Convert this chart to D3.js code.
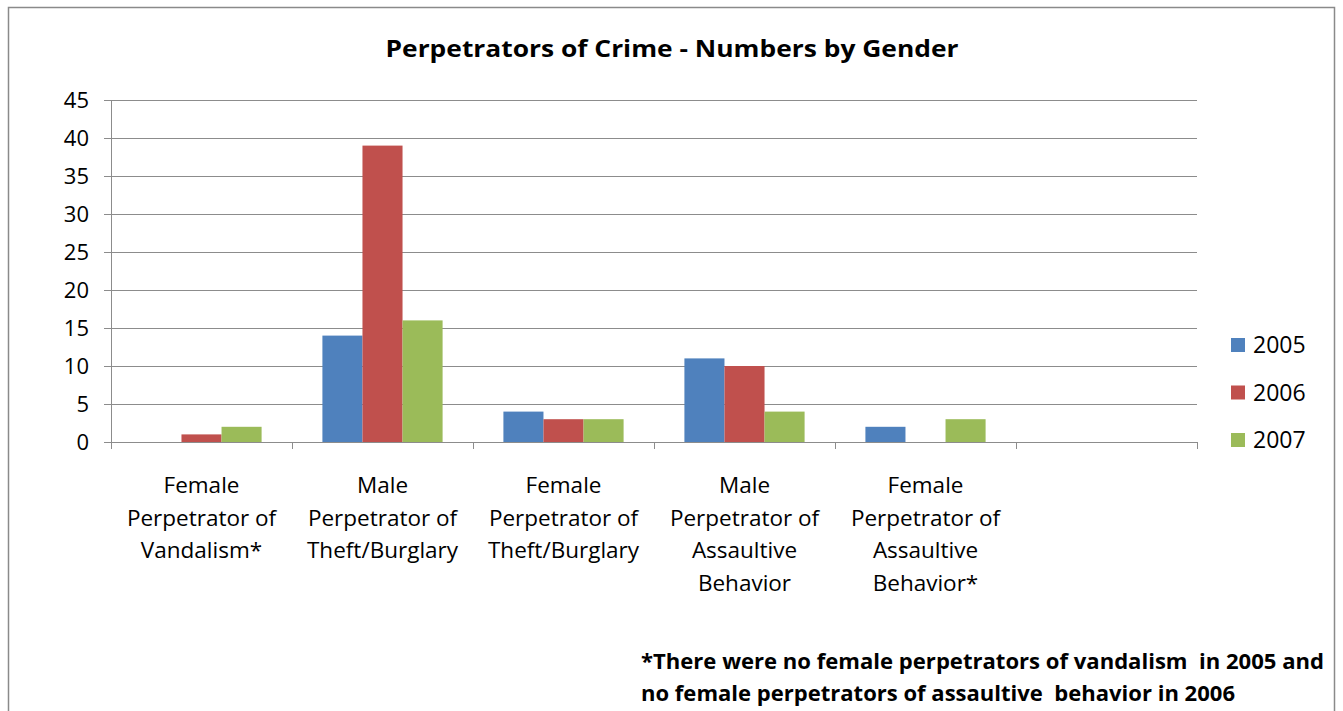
<!DOCTYPE html>
<html>
<head>
<meta charset="utf-8">
<script src="https://cdn.jsdelivr.net/npm/d3@7"></script>
<style>
  body { margin: 0; background: #fff; }
  svg text { font-family: "Open Sans", sans-serif; fill: #000; }
</style>
</head>
<body>
<div id="chart"></div>
<script>
// Data
var categories = [
  ["Female", "Perpetrator of", "Vandalism*"],
  ["Male", "Perpetrator of", "Theft/Burglary"],
  ["Female", "Perpetrator of", "Theft/Burglary"],
  ["Male", "Perpetrator of", "Assaultive", "Behavior"],
  ["Female", "Perpetrator of", "Assaultive", "Behavior*"],
  [""]
]
var years = ["2005", "2006", "2007"]
var v2005 = [0, 14, 4, 11, 2, null]
var v2006 = [1, 39, 3, 10, 0, null]
var v2007 = [2, 16, 3, 4, 3, null]
var yTicks = [0, 5, 10, 15, 20, 25, 30, 35, 40, 45]
var colors = ["#4F81BD", "#C0504D", "#9BBB59"]
var footnote = [
  "*There were no female perpetrators of vandalism  in 2005 and",
  "no female perpetrators of assaultive  behavior in 2006"
]

var series = [v2005, v2006, v2007]
var width = 1343, height = 711
var margin = {left: 111, right: 146, top: 100, bottom: 269}

var svg = d3.select("#chart").append("svg")
  .attr("width", width)
  .attr("height", height)

// outer frame
svg.append("rect")
  .attr("x", 8.5).attr("y", 7.5)
  .attr("width", 1326).attr("height", 720)
  .attr("fill", "none")
  .attr("stroke", "#8a8a8a")
  .attr("stroke-width", 1.5)

var x0 = d3.scaleBand()
  .domain(d3.range(categories.length))
  .range([margin.left, width - margin.right])
  .paddingInner(0.336)
  .paddingOuter(0.168)

var x1 = d3.scaleBand()
  .domain(d3.range(years.length))
  .range([0, x0.bandwidth()])

var y = d3.scaleLinear()
  .domain([0, 45])
  .range([height - margin.bottom, margin.top])

var g = svg.append("g")

// gridlines
g.selectAll("line.grid")
  .data(yTicks).enter()
  .append("line")
    .attr("class", "grid")
    .attr("x1", margin.left - 7)
    .attr("x2", width - margin.right)
    .attr("y1", d => Math.round(y(d)) + 0.5)
    .attr("y2", d => Math.round(y(d)) + 0.5)
    .attr("stroke", "#8c8c8c")
    .attr("stroke-width", 1)

// y axis
var yAxis = d3.axisLeft(y).tickValues(yTicks).tickSize(0).tickPadding(22)
var yg = g.append("g")
  .attr("transform", "translate(" + margin.left + ",0)")
  .call(yAxis)
yg.select(".domain").remove()
yg.selectAll("text").style("font-size", "22px").attr("fill", "#000")

g.append("line")
  .attr("x1", margin.left + 0.5).attr("x2", margin.left + 0.5)
  .attr("y1", y(45)).attr("y2", y(0))
  .attr("stroke", "#8c8c8c")

// category tick marks
var step = x0.step()
g.selectAll("line.ctick")
  .data(d3.range(categories.length + 1)).enter()
  .append("line")
    .attr("class", "ctick")
    .attr("x1", d => Math.round(margin.left + d * step) + 0.5)
    .attr("x2", d => Math.round(margin.left + d * step) + 0.5)
    .attr("y1", y(0))
    .attr("y2", y(0) + 7)
    .attr("stroke", "#8c8c8c")

// bars
series.forEach(function(vals, s) {
  g.selectAll("rect.s" + s)
    .data(vals.map((v, i) => ({v: v, i: i})).filter(d => d.v))
    .enter()
    .append("rect")
      .attr("class", "s" + s)
      .attr("x", d => x0(d.i) + x1(s))
      .attr("width", x1.bandwidth())
      .attr("y", d => y(d.v))
      .attr("height", d => y(0) - y(d.v))
      .attr("fill", colors[s])
})

// category labels
var labels = g.selectAll("text.cat")
  .data(categories).enter()
  .append("text")
    .attr("class", "cat")
    .attr("text-anchor", "middle")
    .style("font-size", "22.5px")
labels.each(function(lines, i) {
  var t = d3.select(this)
  lines.forEach(function(line, k) {
    t.append("tspan")
      .attr("x", margin.left + (i + 0.5) * step)
      .attr("y", y(0) + 51 + k * 32.5)
      .text(line)
  })
})

// title
svg.append("text")
  .attr("x", 672)
  .attr("y", 57)
  .attr("text-anchor", "middle")
  .attr("textLength", 573)
  .attr("lengthAdjust", "spacingAndGlyphs")
  .style("font-size", "23px")
  .style("font-weight", "bold")
  .text("Perpetrators of Crime - Numbers by Gender")

// legend
var legend = svg.selectAll("g.legend")
  .data(years).enter()
  .append("g")
    .attr("class", "legend")
    .attr("transform", (d, i) => "translate(1231," + (345 + i * 47.5) + ")")
legend.append("rect")
  .attr("x", 0).attr("y", -7)
  .attr("width", 14).attr("height", 14)
  .attr("fill", (d, i) => colors[i])
legend.append("text")
  .attr("x", 22).attr("y", 8)
  .style("font-size", "23px")
  .text(d => d)

// footnote
svg.selectAll("text.note")
  .data(footnote).enter()
  .append("text")
    .attr("class", "note")
    .attr("x", 641)
    .attr("y", (d, i) => 669 + i * 32)
    .attr("textLength", (d, i) => i === 0 ? 683 : 594)
    .attr("lengthAdjust", "spacingAndGlyphs")
    .style("font-size", "21px")
    .style("font-weight", "bold")
    .style("white-space", "pre")
    .text(d => d)
</script>
</body>
</html>
